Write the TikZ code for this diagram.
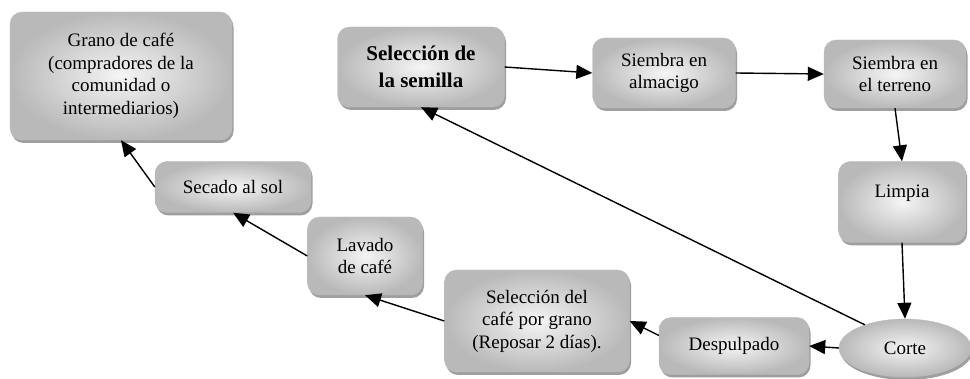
\documentclass[tikz,border=0pt]{standalone}
\usepackage{fontspec}
\setmainfont{Liberation Serif}
\usetikzlibrary{shapes.geometric,shadows,arrows.meta}
\begin{document}
\begin{tikzpicture}[x=1pt,y=-1pt,
    paso/.style={draw=gray!50,rounded corners=12pt,inner color=gray!8,outer color=gray!55,
      drop shadow={shadow xshift=1.5pt,shadow yshift=-3pt,fill=gray!75,opacity=1},
      align=center,font=\fontsize{19}{22.5}\selectfont},
    flecha/.style={line width=1.4pt,-{Triangle[length=16pt,width=14pt]}}]
  \useasboundingbox (0,0) rectangle (970,379);
  % cajas
  \node[paso,minimum width=222pt,minimum height=128pt] (grano) at (121,76)
    {Grano de café\\(compradores de la\\comunidad o\\intermediarios)};
  \node[paso,minimum width=156pt,minimum height=51pt] (secado) at (233,187) {Secado al sol};
  \node[paso,minimum width=115pt,minimum height=78pt] (lavado) at (365,256) {Lavado\\de café};
  \node[paso,minimum width=185pt,minimum height=102pt] (cafe) at (537,321)
    {Selección del\\café por grano\\(Reposar 2 días).};
  \node[paso,minimum width=150pt,minimum height=57pt] (despulpado) at (734,346) {Despulpado};
  \node[paso,ellipse,minimum width=132pt,minimum height=58pt] (corte) at (905,348) {Corte};
  \node[paso,minimum width=127pt,minimum height=81pt] (limpia) at (902,202) {Limpia\\\mbox{}};
  \node[paso,minimum width=142pt,minimum height=68pt] (terreno) at (895,74) {Siembra en\\el terreno};
  \node[paso,minimum width=143pt,minimum height=70pt] (almacigo) at (664,73) {Siembra en\\almacigo};
  \node[paso,minimum width=167pt,minimum height=80pt,font=\fontsize{21}{27}\selectfont\bfseries]
    (semilla) at (421,67) {Selección de\\la semilla};
  % flechas
  \draw[flecha] (semilla.east) -- (almacigo.west);
  \draw[flecha] (almacigo.east) -- (terreno.west);
  \draw[flecha] (terreno.south) -- (limpia.north);
  \draw[flecha] (limpia.south) -- (corte.north);
  \draw[flecha] (corte.west) -- (despulpado.east);
  \draw[flecha] (despulpado.172) -- (cafe.east);
  \draw[flecha] (cafe.west) -- (lavado.south);
  \draw[flecha] (lavado.west) -- (secado.south);
  \draw[flecha] (secado.west) -- (grano.south);
  \draw[flecha] (corte.150) -- (semilla.south);
\end{tikzpicture}
\end{document}
